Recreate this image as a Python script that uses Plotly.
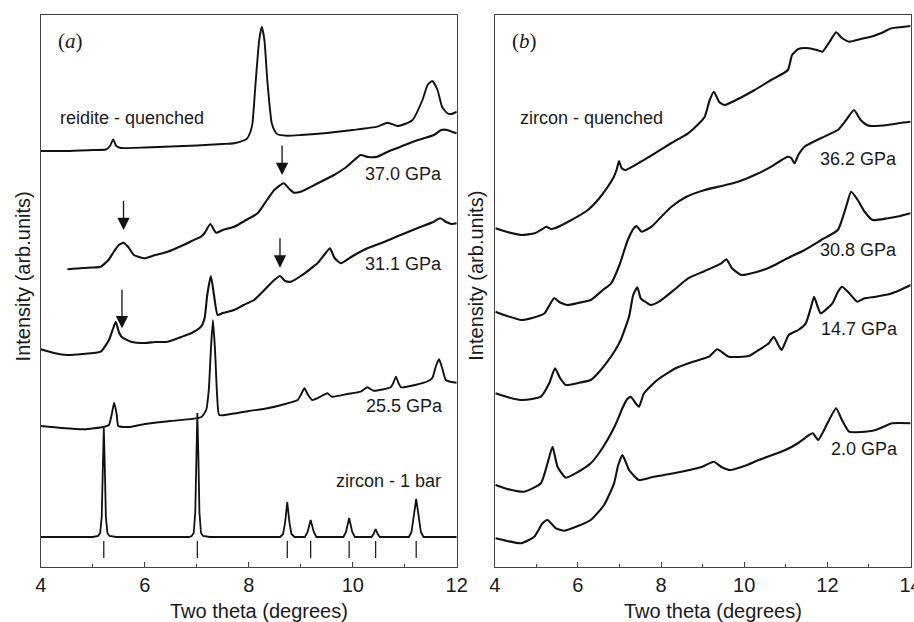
import plotly.graph_objects as go

# ---------------- Panel (a) data: two-theta (deg), intensity (arb. units) ----------------
reidite_q_x = [4.00, 4.5, 5.0, 5.25, 5.33, 5.39, 5.45, 5.54, 6.0, 6.5, 7.0, 7.5, 7.72, 7.90, 7.97, 8.03, 8.07,
               8.13, 8.20, 8.25, 8.30, 8.36, 8.44, 8.50, 8.55, 8.74, 9.0, 9.5, 10.0, 10.47, 10.67, 10.86, 11.0,
               11.15, 11.34, 11.44, 11.53, 11.63, 11.72, 11.82, 11.9, 12.0]
reidite_q_y = [416, 416, 417, 417.5, 421, 427.5, 421, 419, 419.5, 420.5, 421.5, 423, 423.7, 426.5, 428.7, 435, 443.7,
               483.7, 527, 540.3, 527, 484, 444, 436, 432.7, 431.3, 432, 434, 437, 440.3, 444.3, 441, 443,
               447, 467, 482, 486, 477, 460, 453.7, 453, 455.3]

p370_x = [4.51, 4.8, 5.0, 5.15, 5.30, 5.40, 5.50, 5.59, 5.68, 5.79, 5.99, 6.2, 6.44, 6.7, 6.9, 7.08, 7.15, 7.26,
          7.37, 7.5, 7.72, 7.95, 8.17, 8.35, 8.49, 8.67, 8.80, 8.87, 9.0, 9.3, 9.64, 9.85, 10.03, 10.15, 10.3,
          10.47, 10.7, 10.92, 11.2, 11.56, 11.70, 11.82, 11.92, 12.0]
p370_y = [297.7, 299, 299.5, 300.3, 307, 315, 322, 324.3, 320, 312, 308.7, 312, 315.3, 321, 326, 330.3, 334, 343,
          334.3, 337, 340.3, 347, 353.7, 367, 377, 383.7, 377, 374.3, 375.3, 383, 392, 399, 407, 412, 410,
          410.3, 416, 420.3, 426, 432, 437, 437, 435, 433.7]

p311_x = [4.0, 4.25, 4.51, 4.8, 5.15, 5.31, 5.38, 5.44, 5.50, 5.55, 5.73, 6.0, 6.2, 6.44, 6.7, 6.9, 7.08, 7.15,
          7.20, 7.27, 7.33, 7.40, 7.50, 7.72, 7.9, 8.1, 8.30, 8.49, 8.60, 8.70, 8.81, 9.0, 9.32, 9.45, 9.56,
          9.65, 9.77, 10.0, 10.28, 10.6, 10.92, 11.25, 11.56, 11.68, 11.80, 11.9, 12.0]
p311_y = [217.7, 214, 212, 213, 215.3, 227, 237, 245.3, 235, 230.3, 225.3, 224, 225, 225.3, 230, 234, 240.3, 249,
          272, 291, 272, 252, 254, 257, 262, 267, 277, 287, 291, 286, 285.3, 291, 303.7, 312, 318.7,
          309, 303.7, 311, 318.7, 325, 332, 339, 345.3, 348.7, 345, 343, 343.7]

p255_x = [4.0, 4.4, 4.83, 5.2, 5.31, 5.36, 5.41, 5.46, 5.49, 5.7, 6.0, 6.5, 7.08, 7.18, 7.23, 7.27, 7.31, 7.35,
          7.39, 7.43, 7.6, 8.0, 8.36, 8.7, 8.94, 9.0, 9.07, 9.14, 9.22, 9.4, 9.51, 9.6, 9.9, 10.15, 10.28, 10.4,
          10.73, 10.78, 10.83, 10.88, 10.93, 11.2, 11.45, 11.53, 11.60, 11.66, 11.72, 11.79, 11.9, 12.0]
p255_y = [141, 139, 137.7, 140, 142, 152, 164.3, 152, 141, 140, 143, 146, 149.7, 157, 177, 217, 247, 217,
          172, 152, 152.5, 156, 158.7, 163, 167, 172, 178.7, 172, 167, 171, 173.7, 170.3, 173, 175.3, 179.7, 176.3,
          179.7, 184, 190.3, 184, 179.7, 182, 186, 189, 201, 207.7, 199, 187, 185, 184.3]

zircon_1bar_x = [4.0, 5.0, 5.10, 5.14, 5.17, 5.19, 5.21, 5.23, 5.25, 5.28, 5.32, 5.45,
                 6.85, 6.90, 6.94, 6.97, 6.99, 7.01, 7.03, 7.05, 7.08, 7.12, 7.25,
                 8.60, 8.66, 8.70, 8.74, 8.78, 8.82, 8.88,
                 9.08, 9.13, 9.19, 9.25, 9.30,
                 9.82, 9.87, 9.93, 9.99, 10.04,
                 10.36, 10.40, 10.44, 10.48, 10.52,
                 11.08, 11.13, 11.17, 11.22, 11.27, 11.31, 11.36, 12.0]
zircon_1bar_y = [30, 30, 31, 34, 50, 100, 139, 100, 50, 34, 31, 30,
                 30, 31, 34, 55, 110, 154, 110, 55, 34, 31, 30,
                 30, 33, 45, 65, 45, 33, 30,
                 30, 35, 47, 35, 30,
                 30, 35, 49, 35, 30,
                 30, 33, 38, 33, 30,
                 30, 35, 50, 68, 50, 35, 30, 30]

zircon_refl_pos = [5.21, 7.01, 8.74, 9.19, 9.93, 10.44, 11.22]
refl_bar_low, refl_bar_high = 9, 26

# ---------------- Panel (b) data ----------------
zircon_q_x = [4.02, 4.3, 4.64, 4.96, 5.15, 5.24, 5.35, 5.44, 5.8, 6.24, 6.5, 6.72, 6.85, 6.93, 6.99, 7.05, 7.14,
              7.5, 7.85, 8.25, 8.65, 8.9, 9.05, 9.17, 9.27, 9.40, 9.53, 9.9, 10.25, 10.65, 11.05, 11.15, 11.3,
              11.5, 11.75, 11.88, 12.05, 12.21, 12.35, 12.53, 12.8, 13.05, 13.3, 13.54, 13.8, 14.0]
zircon_q_y = [338.7, 335, 332, 333.7, 338, 340.3, 338, 338.7, 346, 357, 368, 380.3, 389, 397, 406, 399, 397,
              405, 413.7, 424, 433.7, 443, 450.3, 467, 475.3, 465, 462, 469, 477, 487, 497, 512, 518,
              519, 517, 515.3, 525, 534.7, 529, 525.3, 528, 530.3, 534, 538.7, 540, 541]

p362_x = [4.02, 4.3, 4.64, 4.9, 5.2, 5.32, 5.43, 5.55, 5.75, 6.0, 6.31, 6.6, 6.80, 7.0, 7.2, 7.35, 7.41, 7.53,
          7.77, 8.0, 8.25, 8.6, 9.05, 9.45, 9.85, 10.25, 10.65, 10.9, 11.05, 11.13, 11.21, 11.30, 11.45, 11.85,
          12.25, 12.45, 12.64, 12.8, 12.95, 13.05, 13.45, 13.75, 14.0]
p362_y = [255.3, 251, 247, 249, 253.7, 262, 269, 265, 262, 264, 267, 277, 283.7, 302, 327, 339, 341, 335.3,
          340.3, 350, 360.3, 370, 377, 381, 385.3, 392, 400.3, 407, 410.3, 409, 403.7, 412, 420.3, 429,
          437, 447, 457, 447, 442, 441, 442, 444, 445.3]

p308_x = [4.02, 4.3, 4.63, 4.9, 5.11, 5.31, 5.45, 5.57, 5.71, 6.0, 6.31, 6.51, 6.71, 6.9, 7.03, 7.23, 7.33, 7.43,
          7.51, 7.63, 7.75, 7.95, 8.31, 8.65, 9.05, 9.45, 9.57, 9.70, 9.93, 10.3, 10.65, 11.05, 11.45, 11.85,
          12.25, 12.45, 12.57, 12.73, 12.9, 13.09, 13.45, 13.75, 14.0]
p308_y = [173.7, 170, 167, 168, 170.3, 183.7, 198.7, 189, 182, 184, 187, 195, 205.3, 217, 227, 250.3, 272, 279.7,
          268.7, 265, 262, 265.3, 277, 288.7, 296, 303.7, 307.7, 299, 292, 295, 300.3, 309, 317, 327,
          337, 360.3, 375.3, 367, 355, 347, 348.7, 351, 353.7]

p147_x = [4.02, 4.3, 4.71, 5.11, 5.27, 5.39, 5.51, 5.71, 6.0, 6.31, 6.51, 6.71, 6.9, 7.07, 7.17, 7.27, 7.39, 7.47,
          7.59, 7.91, 8.35, 8.75, 9.15, 9.35, 9.63, 10.11, 10.35, 10.59, 10.71, 10.82, 10.90, 11.07, 11.30,
          11.48, 11.60, 11.68, 11.76, 11.84, 12.12, 12.25, 12.35, 12.5, 12.72, 12.89, 13.16, 13.5, 13.75, 14.0]
p147_y = [82, 78, 75.3, 83.7, 103.7, 120.3, 100.3, 89.3, 95, 103.7, 114, 127, 142, 158.7, 167, 170.3, 163.7, 160.3,
          173.7, 187, 198.7, 205, 210.3, 217.7, 210.3, 211, 217, 223.7, 230.3, 222, 217, 232, 237,
          243.7, 259, 270.3, 261, 253.7, 263.7, 275, 280.3, 275, 265.3, 268.7, 270.3, 273, 277, 282]

p020_x = [4.02, 4.3, 4.63, 4.95, 5.15, 5.27, 5.47, 5.67, 6.0, 6.31, 6.63, 6.87, 6.97, 7.07, 7.15, 7.23, 7.47, 7.8,
          8.31, 8.99, 9.27, 9.45, 9.67, 10.0, 10.35, 10.99, 11.3, 11.56, 11.65, 11.78, 12.04, 12.21, 12.35,
          12.52, 12.8, 13.16, 13.56, 14.0]
p020_y = [28.7, 26, 23.7, 30.3, 43.7, 47, 38.7, 36.3, 41, 47, 62, 83.7, 102, 112, 105, 97, 87, 90,
          93.7, 100.3, 105.3, 100, 97, 101, 107, 117, 124, 132, 133.7, 127, 147, 158.7, 147,
          135.3, 135, 137, 143.7, 143.7]

# arrows in panel (a): x position, tip intensity, tail intensity
arrow_x = [8.64, 5.59, 8.60, 5.56]
arrow_tip = [392, 337, 299.3, 238.7]
arrow_tail = [423, 367.7, 330.3, 278.7]

# Page layout: the capture maps page x to screen x as 5.1 + 0.982*x, so place things in page px accordingly
H = 622
SX_OFF, SX_SCALE = 5.1, 0.982
def P(screen_x):
    return (screen_x - SX_OFF) / SX_SCALE
W = 926

LINE = "#111111"
FONT = "Arial, Liberation Sans, sans-serif"

fig = go.Figure()

def add(x, y, xa, ya, w=2.0, shape="spline"):
    line = dict(color=LINE, width=w, shape=shape)
    if shape == "spline":
        line["smoothing"] = 0.5
    fig.add_trace(go.Scatter(x=x, y=y, mode="lines", xaxis=xa, yaxis=ya,
                             line=line, showlegend=False, hoverinfo="skip"))

add(reidite_q_x, reidite_q_y, "x", "y", 1.9)
add(p370_x, p370_y, "x", "y", 2.1)
add(p311_x, p311_y, "x", "y", 2.1)
add(p255_x, p255_y, "x", "y", 1.9)
add(zircon_1bar_x, zircon_1bar_y, "x", "y", 1.8, shape="linear")

sx, sy = [], []
for p in zircon_refl_pos:
    sx += [p, p, None]
    sy += [refl_bar_low, refl_bar_high, None]
fig.add_trace(go.Scatter(x=sx, y=sy, mode="lines", xaxis="x", yaxis="y",
                         line=dict(color=LINE, width=1.2), showlegend=False, hoverinfo="skip"))

add(zircon_q_x, zircon_q_y, "x2", "y2", 2.1)
add(p362_x, p362_y, "x2", "y2", 2.1)
add(p308_x, p308_y, "x2", "y2", 2.1)
add(p147_x, p147_y, "x2", "y2", 2.1)
add(p020_x, p020_y, "x2", "y2", 2.1)

ydom = [(H - 567) / H, (H - 15) / H]
axcommon = dict(showline=True, linecolor="#444", linewidth=1.2, mirror=True, showgrid=False, zeroline=False)
fig.update_layout(
    width=W, height=H, autosize=False, margin=dict(l=0, r=0, t=0, b=0),
    paper_bgcolor="white", plot_bgcolor="white",
    font=dict(family=FONT, color="#1a1a1a"),
    xaxis=dict(domain=[P(40) / W, P(456) / W], range=[4, 12], tickvals=[4, 6, 8, 10, 12],
               ticks="inside", ticklen=5, tickcolor="#444", tickfont=dict(size=20),
               minor=dict(tickvals=[5, 7, 9, 11], ticks="inside", ticklen=3, tickcolor="#444"),
               anchor="y", **axcommon),
    yaxis=dict(domain=ydom, range=[0, 552], showticklabels=False, ticks="", anchor="x", **axcommon),
    xaxis2=dict(domain=[P(494) / W, P(910) / W], range=[4, 14], tickvals=[4, 6, 8, 10, 12, 14],
                ticks="inside", ticklen=5, tickcolor="#444", tickfont=dict(size=20),
                minor=dict(tickvals=[5, 7, 9, 11, 13], ticks="inside", ticklen=3, tickcolor="#444"),
                anchor="y2", **axcommon),
    yaxis2=dict(domain=ydom, range=[0, 552], showticklabels=False, ticks="", anchor="x2", **axcommon),
)

ann = []
def lab(text, x, y, xa, ya, xanchor, size=18):
    ann.append(dict(text=text, x=x, y=y, xref=xa, yref=ya, xanchor=xanchor, yanchor="middle",
                    showarrow=False, font=dict(size=size, family=FONT, color="#1a1a1a")))

lab("reidite - quenched", 4.33, 449, "x", "y", "left")
lab("37.0 GPa", 11.76, 393, "x", "y", "right")
lab("31.1 GPa", 11.76, 303.5, "x", "y", "right")
lab("25.5 GPa", 11.78, 161, "x", "y", "right")
lab("zircon - 1 bar", 11.73, 86.5, "x", "y", "right")

lab("zircon - quenched", 4.55, 449, "x2", "y2", "left")
lab("36.2 GPa", 13.72, 408, "x2", "y2", "right")
lab("30.8 GPa", 13.72, 317, "x2", "y2", "right")
lab("14.7 GPa", 13.74, 238, "x2", "y2", "right")
lab("2.0 GPa", 13.74, 118, "x2", "y2", "right")

def pap(text, px, py, size=20, angle=0, family=FONT, xanchor="center"):
    ann.append(dict(text=text, x=P(px) / W, y=1 - py / H, xref="paper", yref="paper",
                    xanchor=xanchor, yanchor="middle", showarrow=False, textangle=angle,
                    font=dict(size=size, family=family, color="#1a1a1a")))

pap("Two theta (degrees)", 257.7, 611)
pap("Two theta (degrees)", 712, 611)
pap("Intensity (arb.units)", 22.5, 276, angle=-90)
pap("Intensity (arb.units)", 475, 276, angle=-90)
pap("(<i>a</i>)", 55, 41, size=21, family="Liberation Serif, Times New Roman, serif", xanchor="left")
pap("(<i>b</i>)", 509, 41, size=21, family="Liberation Serif, Times New Roman, serif", xanchor="left")

for xv, tip, tail in zip(arrow_x, arrow_tip, arrow_tail):
    ann.append(dict(x=xv, y=tip, ax=xv, ay=tail, xref="x", yref="y", axref="x", ayref="y",
                    showarrow=True, arrowhead=2, arrowsize=1.9, arrowwidth=1.3, arrowcolor="#111", text=""))

fig.update_layout(annotations=ann)

post = (
    "document.documentElement.style.margin='0';"
    "document.body.style.margin='0';document.body.style.padding='0';"
    "document.body.style.overflow='hidden';document.documentElement.style.overflow='hidden';"
)
fig.write_html("out.html", config={"displayModeBar": False, "responsive": False}, post_script=post)
